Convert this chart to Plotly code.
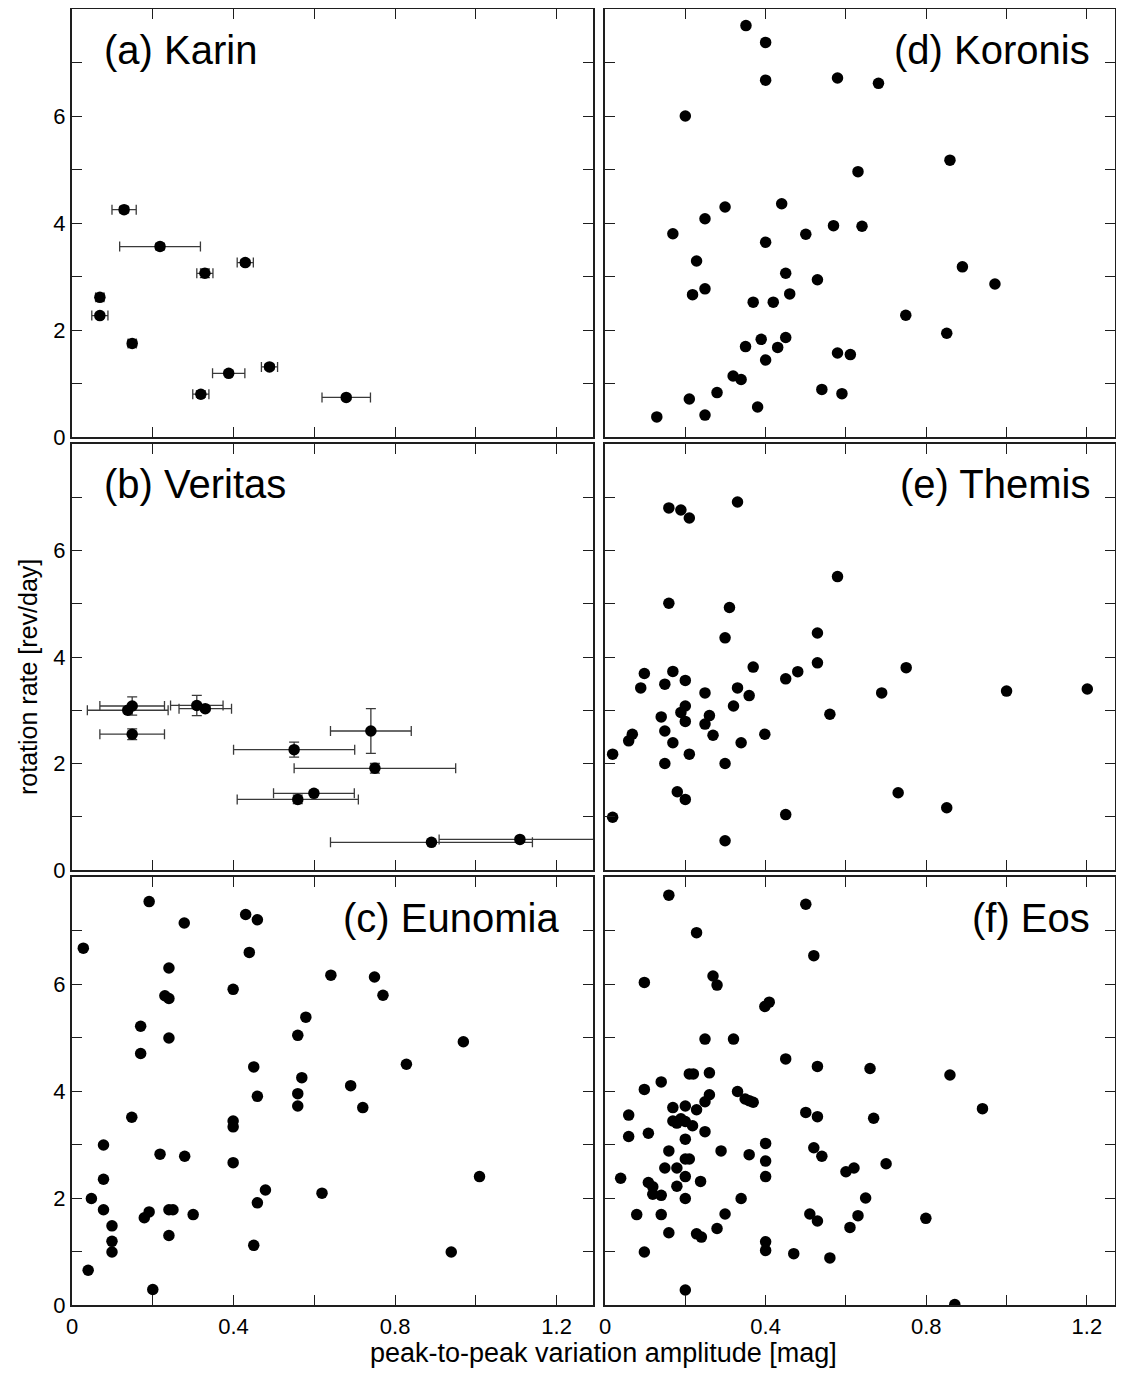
import plotly.graph_objects as go

# ---------------- data ----------------
karin_x = [0.129, 0.218, 0.429, 0.329, 0.069, 0.069, 0.149, 0.489, 0.388, 0.319, 0.679]
karin_y = [4.25, 3.56, 3.26, 3.06, 2.61, 2.27, 1.75, 1.31, 1.19, 0.80, 0.74]
karin_xerr = [0.03, 0.10, 0.02, 0.02, 0.01, 0.02, 0.01, 0.02, 0.04, 0.02, 0.06]
karin_yerr = [0.06, 0.06, 0.05, 0.08, 0.06, 0.04, 0.06, 0.05, 0.04, 0.06, 0.03]

veritas_x = [0.149, 0.138, 0.309, 0.330, 0.149, 0.740, 0.550, 0.750, 0.599, 0.559, 0.890, 1.109]
veritas_y = [3.08, 3.00, 3.09, 3.03, 2.55, 2.61, 2.26, 1.91, 1.44, 1.325, 0.52, 0.575]
veritas_xerr = [0.08, 0.10, 0.065, 0.065, 0.08, 0.10, 0.15, 0.20, 0.10, 0.15, 0.25, 0.20]
veritas_yerr = [0.17, 0.05, 0.19, 0.04, 0.10, 0.42, 0.14, 0.09, 0.04, 0.08, 0.03, 0.03]

eunomia_x = [0.191, 0.278, 0.430, 0.459, 0.028, 0.439, 0.240, 0.641, 0.749, 0.399,
             0.230, 0.240, 0.770, 0.579, 0.170, 0.559, 0.240, 0.969, 0.170, 0.828,
             0.450, 0.569, 0.690, 0.559, 0.459, 0.559, 0.720, 0.148, 0.399, 0.399,
             0.078, 0.218, 0.279, 0.399, 0.078, 1.009, 0.479, 0.619, 0.048, 0.459,
             0.078, 0.191, 0.179, 0.240, 0.250, 0.300, 0.099, 0.099, 0.099, 0.240,
             0.450, 0.939, 0.040, 0.200]
eunomia_y = [7.54, 7.14, 7.30, 7.20, 6.67, 6.59, 6.30, 6.165, 6.13, 5.90,
             5.78, 5.73, 5.79, 5.38, 5.21, 5.04, 4.99, 4.92, 4.70, 4.50,
             4.45, 4.25, 4.10, 3.95, 3.90, 3.72, 3.69, 3.51, 3.44, 3.33,
             2.99, 2.82, 2.78, 2.66, 2.35, 2.40, 2.15, 2.09, 1.99, 1.91,
             1.78, 1.74, 1.63, 1.78, 1.78, 1.69, 1.48, 1.19, 0.99, 1.30,
             1.115, 0.99, 0.65, 0.29]

koronis_x = [0.351, 0.400, 0.400, 0.579, 0.681, 0.200, 0.859, 0.630, 0.299, 0.440,
             0.249, 0.169, 0.569, 0.640, 0.500, 0.400, 0.228, 0.890, 0.450, 0.529,
             0.971, 0.249, 0.218, 0.460, 0.369, 0.419, 0.749, 0.851, 0.450, 0.389,
             0.350, 0.430, 0.579, 0.611, 0.400, 0.319, 0.339, 0.279, 0.540, 0.590,
             0.210, 0.380, 0.249, 0.129]
koronis_y = [7.69, 7.375, 6.67, 6.71, 6.61, 6.00, 5.175, 4.96, 4.30, 4.36,
             4.08, 3.80, 3.95, 3.94, 3.79, 3.64, 3.29, 3.18, 3.06, 2.94,
             2.86, 2.77, 2.66, 2.675, 2.52, 2.52, 2.275, 1.94, 1.86, 1.825,
             1.69, 1.675, 1.57, 1.54, 1.44, 1.14, 1.075, 0.83, 0.89, 0.81,
             0.71, 0.56, 0.41, 0.375]

themis_x = [0.159, 0.189, 0.210, 0.330, 0.579, 0.159, 0.310, 0.299, 0.529, 0.529,
            0.369, 0.750, 0.480, 0.450, 0.098, 0.169, 0.200, 0.149, 0.089, 0.330,
            0.249, 0.359, 0.689, 1.000, 1.201, 0.200, 0.320, 0.189, 0.140, 0.260,
            0.560, 0.200, 0.249, 0.149, 0.269, 0.398, 0.068, 0.059, 0.169, 0.339,
            0.019, 0.210, 0.149, 0.299, 0.180, 0.200, 0.730, 0.851, 0.450, 0.019,
            0.299]
themis_y = [6.80, 6.76, 6.61, 6.91, 5.51, 5.01, 4.93, 4.36, 4.45, 3.89,
            3.81, 3.80, 3.725, 3.59, 3.69, 3.73, 3.56, 3.49, 3.42, 3.42,
            3.325, 3.275, 3.325, 3.36, 3.40, 3.08, 3.08, 2.96, 2.875, 2.90,
            2.925, 2.79, 2.74, 2.61, 2.53, 2.55, 2.55, 2.425, 2.39, 2.39,
            2.175, 2.175, 2.00, 2.00, 1.47, 1.325, 1.45, 1.17, 1.04, 0.99,
            0.55]

eos_x = [0.159, 0.500, 0.228, 0.520, 0.098, 0.269, 0.279, 0.409, 0.398, 0.249,
         0.320, 0.450, 0.529, 0.660, 0.859, 0.210, 0.220, 0.260, 0.140, 0.098,
         0.330, 0.260, 0.349, 0.359, 0.369, 0.249, 0.940, 0.169, 0.200, 0.228,
         0.059, 0.500, 0.529, 0.669, 0.169, 0.189, 0.200, 0.179, 0.218, 0.059,
         0.108, 0.249, 0.200, 0.400, 0.159, 0.289, 0.359, 0.520, 0.540, 0.200,
         0.210, 0.400, 0.700, 0.149, 0.179, 0.600, 0.620, 0.039, 0.200, 0.400,
         0.108, 0.238, 0.119, 0.179, 0.119, 0.140, 0.200, 0.339, 0.649, 0.079,
         0.140, 0.299, 0.510, 0.630, 0.529, 0.799, 0.610, 0.279, 0.159, 0.228,
         0.240, 0.400, 0.400, 0.098, 0.470, 0.560, 0.200, 0.871]
eos_y = [7.66, 7.49, 6.96, 6.53, 6.03, 6.15, 5.98, 5.66, 5.58, 4.97,
         4.97, 4.60, 4.46, 4.42, 4.30, 4.32, 4.32, 4.34, 4.17, 4.03,
         3.99, 3.93, 3.85, 3.82, 3.79, 3.80, 3.67, 3.69, 3.72, 3.65,
         3.55, 3.60, 3.52, 3.49, 3.44, 3.48, 3.43, 3.40, 3.35, 3.15,
         3.21, 3.24, 3.10, 3.02, 2.88, 2.88, 2.81, 2.94, 2.78, 2.73,
         2.73, 2.69, 2.64, 2.56, 2.56, 2.49, 2.56, 2.37, 2.40, 2.40,
         2.29, 2.31, 2.21, 2.22, 2.07, 2.05, 1.99, 1.99, 2.00, 1.69,
         1.69, 1.70, 1.70, 1.67, 1.57, 1.62, 1.45, 1.43, 1.35, 1.33,
         1.27, 1.18, 1.02, 0.99, 0.96, 0.88, 0.28, 0.01]

panel_labels = ["(a) Karin", "(b) Veritas", "(c) Eunomia",
                "(d) Koronis", "(e) Themis", "(f) Eos"]
x_tickvals = [0, 0.2, 0.4, 0.6, 0.8, 1.0, 1.2]
x_ticktext = ["0", "", "0.4", "", "0.8", "", "1.2"]
y_tickvals = [0, 1, 2, 3, 4, 5, 6, 7]
y_ticktext = ["0", "", "2", "", "4", "", "6", ""]
x_title = "peak-to-peak variation amplitude [mag]"
y_title = "rotation rate [rev/day]"

# ---------------- layout geometry ----------------
# page body has an 8px margin; size the figure so that no scrollbars appear
OFF = 8
W, H = 1124 - 2 * OFF, 1376 - 2 * OFF


def px_x(p):
    return min(1.0, max(0.0, (p - OFF) / W))


def px_y(p):
    return min(1.0, max(0.0, 1 - (p - OFF) / H))


col_dom = [[px_x(72), px_x(593)], [px_x(605), px_x(1115)]]
col_xmax = [1.29, 1.27]
right_label_x = [0.939, 0.955]
row_dom = [[px_y(437), px_y(9)], [px_y(870), px_y(444)], [px_y(1305), px_y(877)]]

panels = [
    dict(label=panel_labels[0], x=karin_x, y=karin_y, xerr=karin_xerr, yerr=karin_yerr, col=0, row=0, side="left"),
    dict(label=panel_labels[1], x=veritas_x, y=veritas_y, xerr=veritas_xerr, yerr=veritas_yerr, col=0, row=1, side="left"),
    dict(label=panel_labels[2], x=eunomia_x, y=eunomia_y, xerr=None, yerr=None, col=0, row=2, side="right"),
    dict(label=panel_labels[3], x=koronis_x, y=koronis_y, xerr=None, yerr=None, col=1, row=0, side="right"),
    dict(label=panel_labels[4], x=themis_x, y=themis_y, xerr=None, yerr=None, col=1, row=1, side="right"),
    dict(label=panel_labels[5], x=eos_x, y=eos_y, xerr=None, yerr=None, col=1, row=2, side="right"),
]

FONT = "Liberation Sans, Arial, Helvetica, sans-serif"
tick_font = dict(family=FONT, size=22, color="black")
label_font = dict(family=FONT, size=40, color="black")
LINE = "#1e1e1e"

fig = go.Figure()
layout = dict(width=W, height=H, margin=dict(l=0, r=0, t=0, b=0, pad=0, autoexpand=False),
              paper_bgcolor="white", plot_bgcolor="white", showlegend=False)
annotations = []

for i, p in enumerate(panels):
    n = i + 1
    xa = "x" if n == 1 else f"x{n}"
    ya = "y" if n == 1 else f"y{n}"
    tr = dict(x=p["x"], y=p["y"], mode="markers", xaxis=xa, yaxis=ya,
              marker=dict(color="black", size=11.5, line=dict(width=0)),
              cliponaxis=True, hoverinfo="x+y")
    if p["xerr"] is not None:
        tr["error_x"] = dict(type="data", array=p["xerr"], visible=True,
                             color="#3a3a3a", thickness=1.3, width=5)
        tr["error_y"] = dict(type="data", array=p["yerr"], visible=True,
                             color="#3a3a3a", thickness=1.3, width=5)
    fig.add_trace(go.Scatter(**tr))

    axkey_x = "xaxis" if n == 1 else f"xaxis{n}"
    axkey_y = "yaxis" if n == 1 else f"yaxis{n}"
    layout[axkey_x] = dict(domain=col_dom[p["col"]], anchor=ya, range=[0, col_xmax[p["col"]]],
                           showline=True, linecolor=LINE, linewidth=2.2, mirror="ticks",
                           ticks="inside", ticklen=10, tickwidth=1.4, tickcolor=LINE,
                           tickmode="array", tickvals=x_tickvals, ticktext=x_ticktext,
                           showticklabels=(p["row"] == 2), tickfont=tick_font,
                           automargin=False,
                           showgrid=False, zeroline=False, fixedrange=True)
    layout[axkey_y] = dict(domain=row_dom[p["row"]], anchor=xa, range=[0, 8.0],
                           showline=True, linecolor=LINE, linewidth=2.2, mirror="ticks",
                           ticks="inside", ticklen=10, tickwidth=1.4, tickcolor=LINE,
                           tickmode="array", tickvals=y_tickvals, ticktext=y_ticktext,
                           showticklabels=(p["col"] == 0), tickfont=tick_font,
                           automargin=False,
                           showgrid=False, zeroline=False, fixedrange=True)
    if p["side"] == "left":
        annotations.append(dict(text=p["label"], xref=f"{xa} domain", yref=f"{ya} domain",
                                x=0.058, y=0.905, xanchor="left", yanchor="middle",
                                showarrow=False, font=label_font))
    else:
        annotations.append(dict(text=p["label"], xref=f"{xa} domain", yref=f"{ya} domain",
                                x=right_label_x[p["col"]], y=0.905, xanchor="right",
                                yanchor="middle", showarrow=False, font=label_font))

annotations.append(dict(text=x_title, xref="paper", yref="paper", x=px_x(603), y=px_y(1352.5),
                        xanchor="center", yanchor="middle", showarrow=False,
                        font=dict(family=FONT, size=27, color="black")))
annotations.append(dict(text=y_title, xref="paper", yref="paper", x=px_x(28), y=px_y(677),
                        xanchor="center", yanchor="middle", textangle=-90, showarrow=False,
                        font=dict(family=FONT, size=25, color="black")))
layout["annotations"] = annotations
layout["template"] = "none"
fig.update_layout(**layout)
fig.write_html("out.html")
